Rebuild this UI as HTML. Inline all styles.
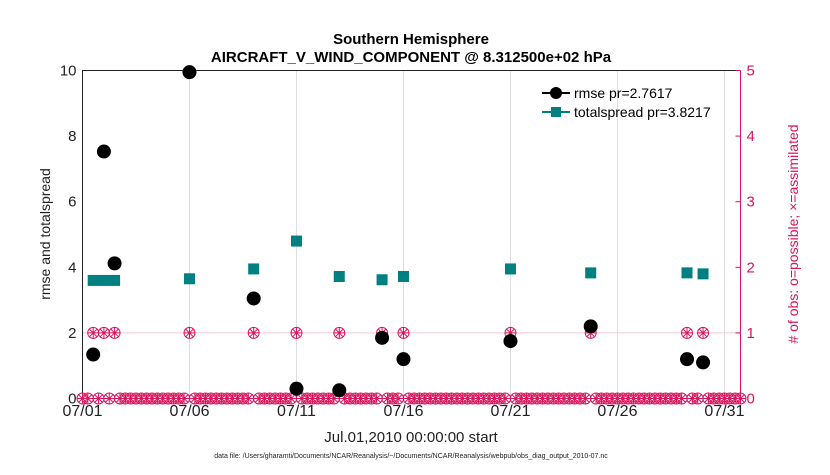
<!DOCTYPE html>
<html><head><meta charset="utf-8"><style>
body{margin:0;background:#fff;}
svg{font-family:"Liberation Sans",sans-serif;}
</style></head><body>
<svg id="chart" width="830" height="470" xmlns="http://www.w3.org/2000/svg">
<text x="411" y="44" font-size="15" font-weight="bold" text-anchor="middle">Southern Hemisphere</text>
<text x="411" y="62" font-size="15" font-weight="bold" text-anchor="middle">AIRCRAFT_V_WIND_COMPONENT @ 8.312500e+02 hPa</text>
<g id="grid"></g>
<g id="axes"></g>
<g id="marks"></g>
<text x="411" y="442" font-size="15" text-anchor="middle" fill="#222">Jul.01,2010 00:00:00 start</text>
<text x="411" y="458" font-size="7" text-anchor="middle" fill="#222">data file: /Users/gharamti/Documents/NCAR/Reanalysis/~/Documents/NCAR/Reanalysis/webpub/obs_diag_output_2010-07.nc</text>
<text transform="translate(50,234) rotate(-90)" font-size="14" text-anchor="middle" fill="#222">rmse and totalspread</text>
<text transform="translate(798,234) rotate(-90)" font-size="14" text-anchor="middle" fill="#d6155c"># of obs: o=possible; ×=assimilated</text>
<g>
<line x1="542" y1="93" x2="570" y2="93" stroke="#000" stroke-width="2"/>
<circle cx="556" cy="93" r="6" fill="#000"/>
<text x="574" y="98" font-size="14">rmse pr=2.7617</text>
<line x1="542" y1="112" x2="570" y2="112" stroke="#008080" stroke-width="2"/>
<rect x="551" y="107" width="10" height="10" fill="#008080"/>
<text x="574" y="117" font-size="14">totalspread pr=3.8217</text>
</g>
</svg>
<script>
const rmseDays=[0.5,1,1.5,5,8,10,12,14,15,20,23.75,28.25,29];
const rmseVals=[1.34,7.53,4.12,9.95,3.05,0.3,0.25,1.85,1.2,1.75,2.2,1.2,1.1];
const spreadVals=[3.6,3.6,3.6,3.65,3.95,4.8,3.72,3.62,3.72,3.95,3.83,3.83,3.8];
const obsDays=[0.5,1,1.5,5,8,10,12,14,15,20,23.75,28.25,29];
const xTickLabels=["07/01","07/06","07/11","07/16","07/21","07/26","07/31"];
const xTickDays=[0,5,10,15,20,25,30];
const yTicks=[0,2,4,6,8,10];
const y2Ticks=[0,1,2,3,4,5];
const L=82.5,R=740.5,T=70.5,B=398.5,DMAX=30.75;
const X=d=>L+d/DMAX*(R-L);
const Y=v=>B-v/10*(B-T);
const Y2=v=>B-v/5*(B-T);
const NS="http://www.w3.org/2000/svg";
function mk(parent,tag,attrs){const e=document.createElementNS(NS,tag);for(const k in attrs)e.setAttribute(k,attrs[k]);document.getElementById(parent).appendChild(e);return e;}
xTickDays.forEach((d,i)=>{
 const g=mk("grid","line",{x1:X(d),x2:X(d),y1:T,y2:B,stroke:"#ddd","stroke-width":1});
 
 
 const t=mk("axes","text",{x:X(d),y:416,"font-size":16,"text-anchor":"middle",fill:"#222"});
 t.textContent=xTickLabels[i];
 
 
});
const hg=mk("grid","line",{x1:L,x2:R,y1:Y2(1),y2:Y2(1),stroke:"#f3c7d6","stroke-width":1});


const ax=mk("axes","path",{d:`M${L},${B}V${T}H${R}`,fill:"none",stroke:"#222","stroke-width":1});


const ax2=mk("axes","line",{x1:R,x2:R,y1:T,y2:B,stroke:"#d6155c","stroke-width":1});


const axb=mk("axes","line",{x1:L,x2:R,y1:B,y2:B,stroke:"#222","stroke-width":1});


yTicks.forEach(v=>{
 const t=mk("axes","text",{x:L-6,y:Y(v)+5,"font-size":15,"text-anchor":"end",fill:"#222"});
 t.textContent=v;
 
 
});
y2Ticks.forEach(v=>{
 const t=mk("axes","text",{x:R+6,y:Y2(v)+5,"font-size":15,fill:"#d6155c"});
 t.textContent=v;
 
 
 const k=mk("axes","line",{x1:R-5,x2:R,y1:Y2(v),y2:Y2(v),stroke:"#d6155c"});
 
 
});
function obsMark(d,v){
 const cx=X(d),cy=Y2(v),r=5.5;
 const g=mk("marks","g",{stroke:"#d6155c","stroke-width":1,fill:"none"});
 
 
 const c=document.createElementNS(NS,"circle");c.setAttribute("cx",cx);c.setAttribute("cy",cy);c.setAttribute("r",r);g.appendChild(c);
 const p=document.createElementNS(NS,"path");
 p.setAttribute("d",`M${cx-r},${cy}H${cx+r}M${cx},${cy-r}V${cy+r}M${cx-3.9},${cy-3.9}L${cx+3.9},${cy+3.9}M${cx-3.9},${cy+3.9}L${cx+3.9},${cy-3.9}`);
 g.appendChild(p);
}
for(let i=0;i*0.25<=DMAX;i++){const d=i*0.25;if(!obsDays.some(o=>Math.abs(o-d)<1e-6))obsMark(d,0);}
obsDays.forEach(d=>obsMark(d,1));
spreadVals.forEach((v,i)=>{
 const s=mk("marks","rect",{x:X(rmseDays[i])-5.5,y:Y(v)-5.5,width:11,height:11,fill:"#008080"});
 
 
});
rmseVals.forEach((v,i)=>{
 const c=mk("marks","circle",{cx:X(rmseDays[i]),cy:Y(v),r:7,fill:"#000"});
 
 
});
</script>
</body></html>
